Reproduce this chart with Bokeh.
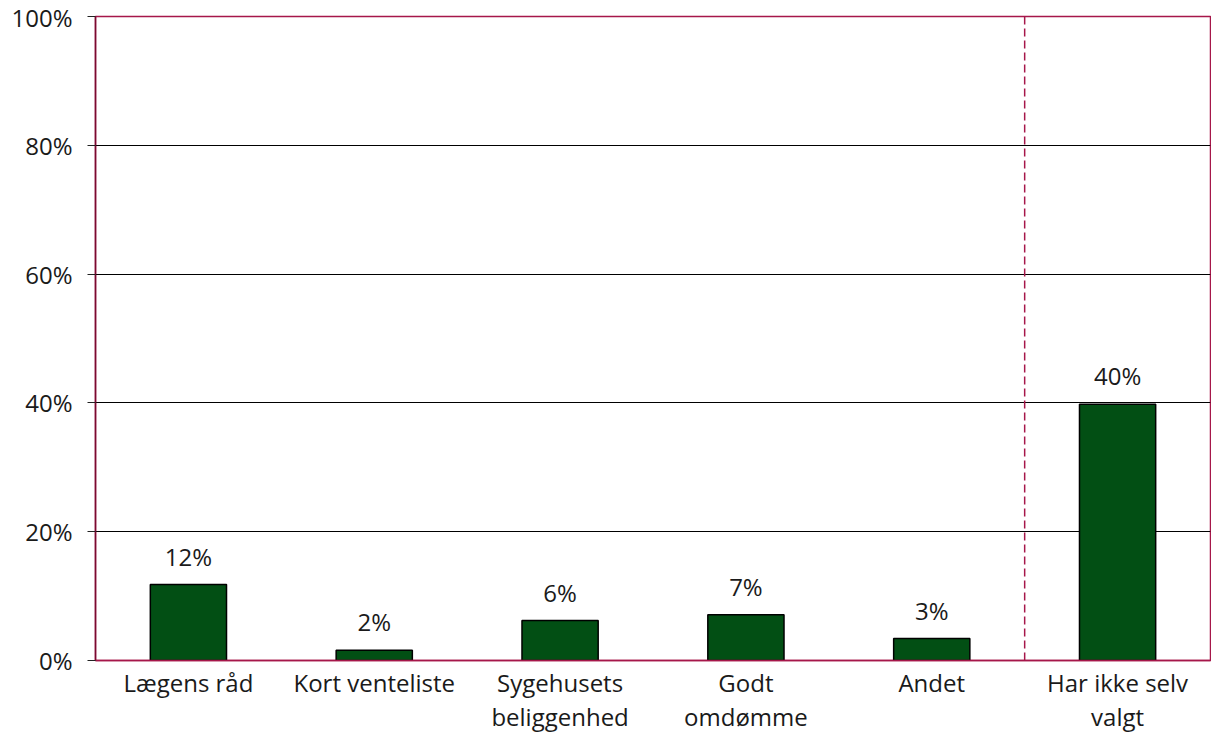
from bokeh.plotting import figure
from bokeh.models import ColumnDataSource, Span, FixedTicker, Range1d
from bokeh.core.properties import value
from bokeh.embed import file_html
from bokeh.resources import INLINE

categories = ["Lægens råd", "Kort venteliste", "Sygehusets\nbeliggenhed", "Godt\nomdømme", "Andet", "Har ikke selv\nvalgt"]
values = [11.8, 1.6, 6.2, 7.1, 3.4, 39.8]
labels = ["12%", "2%", "6%", "7%", "3%", "40%"]
y_ticks = [0, 20, 40, 60, 80, 100]

FONT = "Open Sans"
FS = "24px"
TXT = "#1a1a1a"
xs = list(range(len(categories)))

src = ColumnDataSource(dict(x=xs, top=values, lab=labels))

p = figure(width=1211, height=737, output_backend="svg", toolbar_location=None,
           x_range=Range1d(-0.5, len(categories) - 0.5), y_range=Range1d(0, 100),
           min_border_left=95, min_border_top=16, min_border_right=1, min_border_bottom=77)

p.vbar(x="x", top="top", bottom=0, width=0.41, source=src,
       fill_color="#024f14", line_color="black", line_width=1.5)

p.text(x="x", y="top", text="lab", source=src, text_align="center", text_baseline="bottom",
       y_offset=-12, text_font=value(FONT), text_font_size=FS, text_color=TXT)

p.add_layout(Span(location=4.5, dimension="height", line_color="#a6174a",
                  line_dash="8 4", line_width=1.5))

p.outline_line_color = "#a6174a"
p.outline_line_width = 1.5
p.background_fill_color = "white"
p.border_fill_color = "white"

p.xgrid.visible = False
p.ygrid.ticker = FixedTicker(ticks=y_ticks)
p.ygrid.grid_line_color = "black"
p.ygrid.grid_line_width = 1

p.yaxis.ticker = FixedTicker(ticks=y_ticks)
p.yaxis.major_label_overrides = {t: f"{t}%" for t in y_ticks}
p.yaxis.axis_line_color = "#7a0a30"
p.yaxis.axis_line_width = 1.5
p.yaxis.major_tick_line_color = "#222222"
p.yaxis.major_tick_out = 8
p.yaxis.major_tick_in = 0
p.yaxis.minor_tick_line_color = None
p.yaxis.major_label_text_font = FONT
p.yaxis.major_label_text_font_size = FS
p.yaxis.major_label_text_color = TXT
p.yaxis.major_label_standoff = 15

p.xaxis.ticker = FixedTicker(ticks=xs)
p.xaxis.major_label_overrides = {i: c for i, c in zip(xs, categories)}
p.xaxis.axis_line_color = "#a6174a"
p.xaxis.axis_line_width = 1.5
p.xaxis.major_tick_line_color = None
p.xaxis.major_tick_out = 0
p.xaxis.major_tick_in = 0
p.xaxis.minor_tick_line_color = None
p.xaxis.major_label_text_font = FONT
p.xaxis.major_label_text_font_size = FS
p.xaxis.major_label_text_color = TXT
p.xaxis.major_label_text_line_height = 1.05
p.xaxis.major_label_standoff = 5

open("out.html", "w").write(file_html(p, INLINE))
